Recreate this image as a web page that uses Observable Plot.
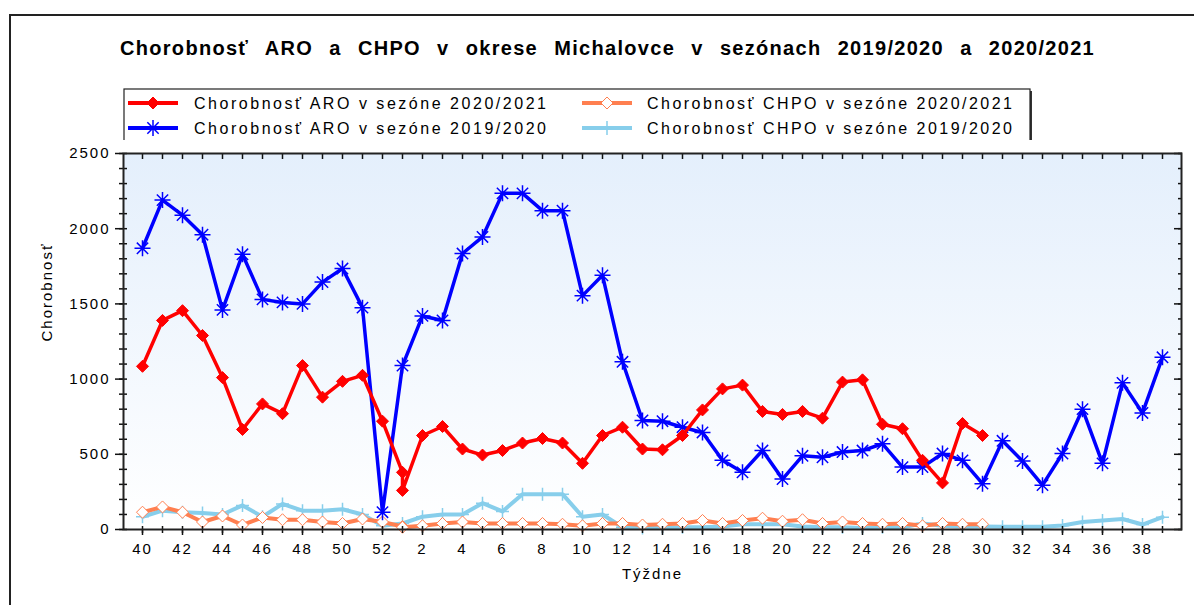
<!DOCTYPE html>
<html><head><meta charset="utf-8">
<script src="https://cdn.jsdelivr.net/npm/d3@7"></script>
<script src="https://cdn.jsdelivr.net/npm/@observablehq/plot@0.6"></script>
<style>
body{margin:0;background:#fff;}
#wrap{position:relative;width:1194px;height:605px;overflow:hidden;font-family:"Liberation Sans",Arial,sans-serif;}
#border{position:absolute;left:9px;top:14px;width:1300px;height:700px;border-left:2px solid #222;border-top:2px solid #222;}
#head{position:absolute;left:0;top:0;}
#chart{position:absolute;left:0;top:140px;}
</style></head><body>
<div id="wrap"><div id="border"></div><svg id="head" width="1194" height="140"></svg><div id="chart"></div></div>
<script>
// ---- data ----
const weeks = [40,41,42,43,44,45,46,47,48,49,50,51,52,1,2,3,4,5,6,7,8,9,10,11,12,13,14,15,16,17,18,19,20,21,22,23,24,25,26,27,28,29,30,31,32,33,34,35,36,37,38,39];
const xTickLabels = ["40","42","44","46","48","50","52","2","4","6","8","10","12","14","16","18","20","22","24","26","28","30","32","34","36","38"];
const yTicks = [0,500,1000,1500,2000,2500];

// ARO 2019/2020 (weeks 40..52, 1..39)
const aro1920 = [1870,2190,2090,1960,1460,1830,1530,1510,1500,1645,1735,1475,115,
  1090,1420,1390,1835,1945,2235,2235,2120,2120,1555,1690,1115,725,720,680,645,460,380,525,335,490,480,515,525,570,415,415,505,460,305,590,455,295,505,800,440,975,775,1145];
// CHPO 2019/2020
const chpo1920 = [85,125,115,110,100,160,85,170,125,125,135,100,25,
  40,85,100,100,175,120,235,235,235,85,100,15,10,10,15,15,20,35,35,35,20,15,15,10,15,15,40,25,20,20,18,18,18,27,50,60,70,33,82];
// ARO 2020/2021 (weeks 40..53, 1..30)
const weeks2021 = [40,41,42,43,44,45,46,47,48,49,50,51,52,53,1,2,3,4,5,6,7,8,9,10,11,12,13,14,15,16,17,18,19,20,21,22,23,24,25,26,27,28,29,30];
const aro2021 = [1085,1390,1455,1290,1010,665,835,770,1090,880,985,1025,720,380,260,
  625,685,535,495,525,575,605,575,440,625,680,535,530,625,795,935,960,785,765,785,740,980,995,700,670,460,310,705,625];
// CHPO 2020/2021
const chpo2021 = [115,150,115,50,90,30,80,65,65,50,40,70,50,20,15,
  25,40,50,40,40,40,40,35,25,40,40,30,35,40,60,40,60,75,55,65,40,50,40,35,40,25,40,35,35];

const seriesNames = ["Chorobnosť ARO v sezóne 2020/2021","Chorobnosť CHPO v sezóne 2020/2021","Chorobnosť ARO v sezóne 2019/2020","Chorobnosť CHPO v sezóne 2019/2020"];
const seriesColors = ["#ff0000","#ff7f50","#0000ff","#87ceeb"];
const title = "Chorobnosť ARO a CHPO v okrese Michalovce v sezónach 2019/2020 a 2020/2021";

// ---- helpers ----
const pos = w => w === 53 ? 13 : (w >= 40 ? w - 40 : w + 12);
const tickIdx = d3.range(0, 52, 2);
const allIdx = d3.range(0, 52);

const symAsterisk = {draw(c, size){const r=Math.sqrt(size/Math.PI), d=r*0.7071;
  c.moveTo(-r,0);c.lineTo(r,0);c.moveTo(0,-r);c.lineTo(0,r);c.moveTo(-d,-d);c.lineTo(d,d);c.moveTo(-d,d);c.lineTo(d,-d);}};
const symPlus = {draw(c, size){const r=Math.sqrt(size/Math.PI);
  c.moveTo(-r,0);c.lineTo(r,0);c.moveTo(0,-r);c.lineTo(0,r);}};
const symDiamond = {draw(c, size){const r=Math.sqrt(size/Math.PI);
  c.moveTo(0,-r);c.lineTo(r,0);c.lineTo(0,r);c.lineTo(-r,0);c.closePath();}};

const dAro1920 = aro1920.map((v,i)=>({x:i,y:v}));
const dChpo1920 = chpo1920.map((v,i)=>({x:i,y:v}));
const dAro2021 = aro2021.map((v,i)=>({x:pos(weeks2021[i]),y:v}));
const dChpo2021 = chpo2021.map((v,i)=>({x:pos(weeks2021[i]),y:v}));

const font = "Liberation Sans, Arial, sans-serif";
const svg = Plot.plot({
  width: 1194, height: 465,
  marginLeft: 123, marginRight: 13, marginTop: 13, marginBottom: 76,
  style: {fontFamily: font, fontSize: "15px", color: "#000", background: "transparent", overflow: "visible", letterSpacing: "2px"},
  x: {domain: [-0.95, 51.95], axis: null},
  y: {domain: [0, 2500], axis: null},
  marks: [
    Plot.frame({fill: "url(#plotbg)", stroke: null}),
    Plot.line(dChpo1920, {x:"x", y:"y", stroke: seriesColors[3], strokeWidth: 4}),
    Plot.dot(dChpo1920, {x:"x", y:"y", stroke: seriesColors[3], symbol: symPlus, r: 6.5, strokeWidth: 1.5}),
    Plot.line(dChpo2021, {x:"x", y:"y", stroke: seriesColors[1], strokeWidth: 4}),
    Plot.dot(dChpo2021, {x:"x", y:"y", stroke: seriesColors[1], fill: "#fff", symbol: symDiamond, r: 6, strokeWidth: 1}),
    Plot.line(dAro1920, {x:"x", y:"y", stroke: seriesColors[2], strokeWidth: 3.5}),
    Plot.dot(dAro1920, {x:"x", y:"y", stroke: seriesColors[2], fill: "none", symbol: symAsterisk, r: 8, strokeWidth: 1.5}),
    Plot.line(dAro2021, {x:"x", y:"y", stroke: seriesColors[0], strokeWidth: 3.5}),
    Plot.dot(dAro2021, {x:"x", y:"y", fill: seriesColors[0], stroke: seriesColors[0], symbol: symDiamond, r: 6, strokeWidth: 1}),
    // axes
    Plot.axisY({ticks: yTicks, tickFormat: d => String(d), tickSize: 8, tickPadding: 5, label: null, stroke: "#111", strokeWidth: 1.5}),
    Plot.axisY({ticks: d3.range(0,2501,100), tickSize: 4, text: null, label: null, stroke: "#111", strokeWidth: 1.5}),
    Plot.axisY({ticks: d3.range(0,2501,100), tickSize: -4, text: null, label: null, stroke: "#111", strokeWidth: 1.5}),
    Plot.axisY({anchor: "right", ticks: d3.range(0,2501,100), tickSize: -4, text: null, label: null, stroke: "#111", strokeWidth: 1.5}),
    Plot.axisY({anchor: "right", ticks: yTicks, tickSize: -8, text: null, label: null, stroke: "#111", strokeWidth: 1.5}),
    Plot.axisX({ticks: tickIdx, tickFormat: i => xTickLabels[i/2], tickSize: 6, tickPadding: 8, label: null, stroke: "#111", strokeWidth: 1.5}),
    Plot.axisX({ticks: allIdx, tickSize: 4, text: null, label: null, stroke: "#111", strokeWidth: 1.5}),
    Plot.axisX({ticks: allIdx, tickSize: -3, text: null, label: null, stroke: "#111", strokeWidth: 1.5}),
    Plot.axisX({anchor: "top", ticks: allIdx, tickSize: -5, text: null, label: null, stroke: "#111", strokeWidth: 1.5}),
    Plot.frame({stroke: "#222", strokeWidth: 2}),
    Plot.text(["Týždne"], {frameAnchor: "bottom", dy: 49, fontSize: 15}),
    Plot.text(["Chorobnosť"], {frameAnchor: "left", dx: -76, rotate: -90, fontSize: 15})
  ]
});
d3.select(svg).insert("defs", ":first-child").html(
  '<linearGradient id="plotbg" x1="0" y1="0" x2="0" y2="1"><stop offset="0" stop-color="#e4effc"/><stop offset="1" stop-color="#ffffff"/></linearGradient>');
document.getElementById("chart").appendChild(svg);

// ---- title + legend ----
const head = d3.select("#head");
const titleEl = head.append("text").attr("x", 120).attr("y", 55)
  .attr("font-family", font).attr("font-weight", "bold").attr("font-size", 20).attr("letter-spacing", 1.3).text(title);
{
  const w = titleEl.node().getComputedTextLength();
  const gaps = title.split(" ").length - 1;
  const ws = Math.max(0, (975 - w) / gaps);
  titleEl.attr("word-spacing", ws.toFixed(2));
}
head.append("rect").attr("x", 126).attr("y", 91).attr("width", 906).attr("height", 52).attr("fill", "#333");
head.append("rect").attr("x", 124).attr("y", 89).attr("width", 906).attr("height", 52).attr("fill", "#fff").attr("stroke", "#222").attr("stroke-width", 1.2);
const legendItems = [
  {name: seriesNames[0], color: seriesColors[0], sym: symDiamond, fill: seriesColors[0], col: 0, row: 0, r: 6},
  {name: seriesNames[1], color: seriesColors[1], sym: symDiamond, fill: "#fff", col: 1, row: 0, r: 6},
  {name: seriesNames[2], color: seriesColors[2], sym: symAsterisk, fill: "none", col: 0, row: 1, r: 8},
  {name: seriesNames[3], color: seriesColors[3], sym: symPlus, fill: "none", col: 1, row: 1, r: 7}
];
const colX = [128, 582], textX = [194, 647], rowY = [103, 128], textW = [352, 365];
for (const it of legendItems) {
  const x0 = colX[it.col], y0 = rowY[it.row];
  head.append("line").attr("x1", x0).attr("x2", x0 + 50).attr("y1", y0).attr("y2", y0)
    .attr("stroke", it.color).attr("stroke-width", 4);
  const p = d3.path(); it.sym.draw(p, Math.PI * it.r * it.r);
  head.append("path").attr("d", p.toString()).attr("transform", `translate(${x0 + 25},${y0})`)
    .attr("fill", it.fill).attr("stroke", it.color).attr("stroke-width", it.sym === symDiamond ? 1 : 1.5);
  head.append("text").attr("x", textX[it.col]).attr("y", y0 + 6).attr("textLength", textW[it.col]).attr("lengthAdjust", "spacing")
    .attr("font-family", font).attr("font-size", 16).text(it.name);
}
</script>
</body></html>
